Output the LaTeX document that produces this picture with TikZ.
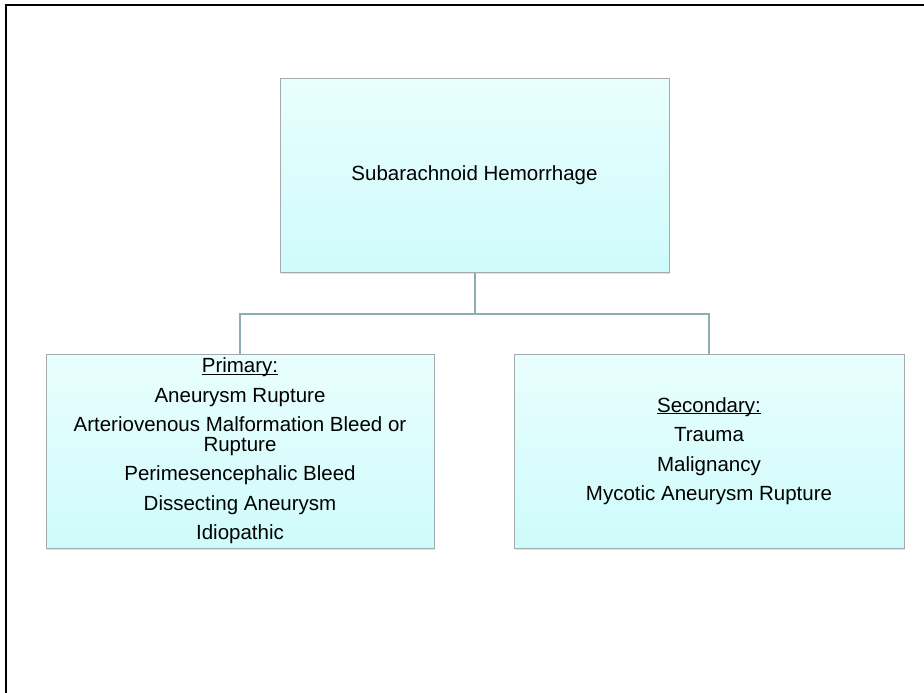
\documentclass[tikz,border=0pt]{standalone}
\usepackage{fontspec}
\setmainfont{Liberation Sans}
\usetikzlibrary{shadows}

% underline that sits just under the baseline
\newcommand\ulabel[1]{\setbox0\hbox{#1}\rlap{\rule[-2.2pt]{\wd0}{1.3pt}}\box0}

\definecolor{boxtop}{HTML}{E9FEFE}
\definecolor{boxbot}{HTML}{CFFBFB}
\definecolor{boxline}{HTML}{A3ACAC}
\definecolor{connline}{HTML}{8EADB1}

\tikzset{
  catbox/.style={
    draw=boxline, line width=1pt,
    top color=boxtop, bottom color=boxbot,
    drop shadow={opacity=0.22, shadow xshift=1pt, shadow yshift=-1.8pt},
    inner sep=0pt, align=center,
    font=\fontsize{20.5}{19.5}\selectfont
  },
  conn/.style={draw=connline, line width=2pt},
  frameline/.style={draw=black, line width=2pt, line cap=rect}
}

\begin{document}
\begin{tikzpicture}[x=1pt,y=-1pt]
\useasboundingbox (0,0) rectangle (924,693);

% page frame
\draw[frameline] (6,693) -- (6,5) -- (924,5);

% boxes
\node[catbox, minimum width=389pt, minimum height=193pt] (top) at (474.5,175.5)
  {Subarachnoid Hemorrhage};

\node[catbox, minimum width=388pt, minimum height=194pt] (prim) at (240,451)
  {\ulabel{Primary:}\\[10pt]
   Aneurysm Rupture\\[10pt]
   Arteriovenous Malformation Bleed or\\
   Rupture\\[10pt]
   Perimesencephalic Bleed\\[10pt]
   Dissecting Aneurysm\\[10pt]
   Idiopathic};

\node[catbox, minimum width=390pt, minimum height=194pt] (sec) at (709,451)
  {\ulabel{Secondary:}\\[10pt]
   Trauma\\[10pt]
   Malignancy\\[10pt]
   Mycotic Aneurysm Rupture};

% tree connectors
\draw[conn] (top.south) -- ++(0,41) coordinate (split) -| (prim.north);
\draw[conn] (split) -| (sec.north);
\end{tikzpicture}
\end{document}
